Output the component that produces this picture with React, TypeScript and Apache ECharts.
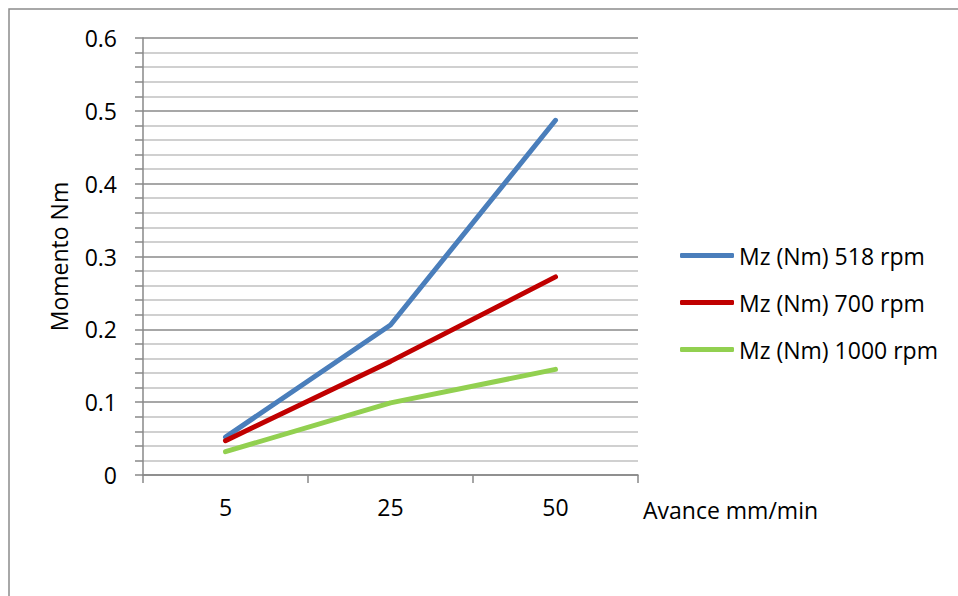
import React, { useEffect, useRef } from "react";
import * as echarts from "echarts";

// Feed rates (mm/min) on the category axis
const feedRates = ["5", "25", "50"];

// Torque Mz (Nm) for each spindle speed
const mz518 = [0.052, 0.206, 0.487];
const mz700 = [0.047, 0.156, 0.272];
const mz1000 = [0.032, 0.099, 0.145];

const seriesNames = ["Mz (Nm) 518 rpm", "Mz (Nm) 700 rpm", "Mz (Nm) 1000 rpm"];
const seriesColors = ["#4A7EBB", "#C00000", "#92D050"];

const FONT = "Open Sans";
const FS = 23;

export default function App() {
  const ref = useRef<HTMLDivElement>(null);

  useEffect(() => {
    if (!ref.current) return;
    const chart = echarts.init(ref.current, undefined, { renderer: "svg" });
    const values = [mz518, mz700, mz1000];

    chart.setOption({
      animation: false,
      backgroundColor: "#ffffff",
      textStyle: { fontFamily: FONT, color: "#000" },
      graphic: [
        {
          type: "rect",
          shape: { x: 9, y: 9, width: 1200, height: 1000 },
          style: { fill: "none", stroke: "#8c8c8c", lineWidth: 1.5 },
          silent: true,
          z: -1,
        },
      ],
      grid: { left: 143, right: 320, top: 38, bottom: 121 },
      legend: {
        orient: "vertical",
        left: 675,
        top: 239,
        itemWidth: 54,
        itemHeight: 5,
        itemGap: 24,
        icon: "roundRect",
        textStyle: { fontFamily: FONT, fontSize: FS, color: "#000" },
        data: seriesNames,
      },
      xAxis: {
        type: "category",
        data: feedRates,
        boundaryGap: true,
        axisLine: { lineStyle: { color: "#888", width: 1.5 } },
        axisTick: { show: true, length: 8, lineStyle: { color: "#888", width: 1.5 } },
        axisLabel: { fontFamily: FONT, fontSize: FS, color: "#000", margin: 20 },
        name: "Avance mm/min",
        nameLocation: "end",
        nameGap: 5,
        nameTextStyle: {
          fontFamily: FONT,
          fontSize: FS,
          color: "#000",
          verticalAlign: "top",
          padding: [23, 0, 0, 0],
        },
      },
      yAxis: {
        type: "value",
        min: 0,
        max: 0.6,
        interval: 0.1,
        axisLine: { show: true, lineStyle: { color: "#888", width: 1.5 } },
        axisTick: { show: true, length: 8, lineStyle: { color: "#888", width: 1.5 } },
        minorTick: { show: true, splitNumber: 5, length: 8, lineStyle: { color: "#888", width: 1.5 } },
        splitLine: { show: true, lineStyle: { color: "#8a8a8a", width: 1.5 } },
        minorSplitLine: { show: true, lineStyle: { color: "#c0c0c0", width: 1.5 } },
        axisLabel: {
          fontFamily: FONT,
          fontSize: FS,
          color: "#000",
          margin: 26,
          formatter: (v: number) => (v === 0 ? "0" : String(Math.round(v * 10) / 10)),
        },
        name: "Momento Nm",
        nameLocation: "middle",
        nameGap: 73,
        nameRotate: 90,
        nameTextStyle: { fontFamily: FONT, fontSize: FS, color: "#000" },
      },
      series: seriesNames.map((name, i) => ({
        name,
        type: "line",
        data: values[i],
        symbol: "none",
        color: seriesColors[i],
        lineStyle: { width: 5, color: seriesColors[i], cap: "round", join: "round" },
      })),
    });

    return () => chart.dispose();
  }, []);

  return (
    <div
      ref={ref}
      style={{ position: "absolute", left: 0, top: 0, width: 958, height: 596 }}
    />
  );
}
